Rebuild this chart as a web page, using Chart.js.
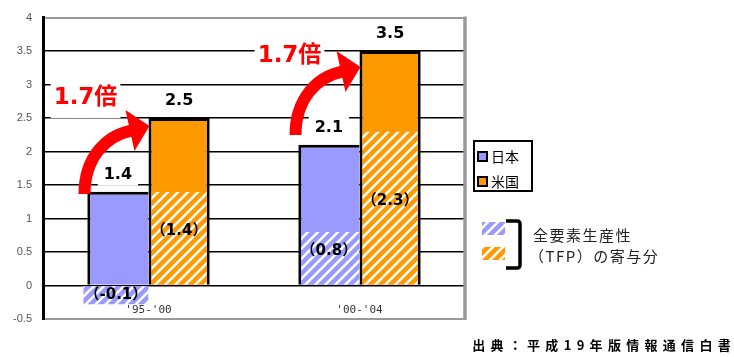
<!DOCTYPE html>
<html>
<head>
<meta charset="utf-8">
<script src="https://cdn.jsdelivr.net/npm/chart.js@4"></script>
<style>
  html, body { margin: 0; padding: 0; background: #fff; }
  #wrap { width: 734px; height: 357px; position: relative; }
</style>
</head>
<body>
<div id="wrap"><canvas id="c" width="734" height="357"></canvas></div>
<script>
// Labour productivity growth, Japan vs. US (%), with the TFP contribution
const periods = ["'95-'00", "'00-'04"];
const japanGrowth = [1.4, 2.1];
const usGrowth = [2.5, 3.5];
const japanTfp = [-0.1, 0.8];
const usTfp = [1.4, 2.3];
const ratioLabels = ['1.7倍', '1.7倍'];
const yTicks = [-0.5, 0, 0.5, 1, 1.5, 2, 2.5, 3, 3.5, 4];
const seriesNames = ['日本', '米国'];
const tfpLegendLines = ['全要素生産性', '（TFP）の寄与分'];
const sourceNote = '出典：平成19年版情報通信白書';

const BLUE = '#9999ff';
const ORANGE = '#ff9900';
const RED = '#ff0000';
const LABEL_FONT = '"DejaVu Sans", "Noto Sans CJK JP", sans-serif';
const JP_FONT = '"Noto Sans CJK JP", "DejaVu Sans", sans-serif';

const canvas = document.getElementById('c');
const mainCtx = canvas.getContext('2d');

// diagonal white stripes on a coloured ground
function hatch(color) {
  const s = 10;
  const tile = document.createElement('canvas');
  tile.width = tile.height = s;
  const g = tile.getContext('2d');
  g.fillStyle = color;
  g.fillRect(0, 0, s, s);
  g.strokeStyle = '#fff';
  g.lineWidth = 2.6;
  g.beginPath();
  g.moveTo(-2, s + 2); g.lineTo(s + 2, -2);
  g.moveTo(-2, 2); g.lineTo(2, -2);
  g.moveTo(s - 2, s + 2); g.lineTo(s + 2, s - 2);
  g.stroke();
  return mainCtx.createPattern(tile, 'repeat');
}
const BLUE_HATCH = hatch(BLUE);
const ORANGE_HATCH = hatch(ORANGE);

function boxedText(ctx, text, x, y, font, color, padX, halfH, bg) {
  ctx.save();
  ctx.font = font;
  const w = ctx.measureText(text).width;
  if (bg) {
    ctx.fillStyle = bg;
    ctx.fillRect(x - w / 2 - padX, y - halfH, w + padX * 2, halfH * 2);
  }
  ctx.fillStyle = color;
  ctx.textAlign = 'center';
  ctx.textBaseline = 'middle';
  ctx.fillText(text, x, y);
  ctx.restore();
}

// value labels on bar tops and inside the TFP parts
const valueLabels = {
  id: 'valueLabels',
  afterDatasetsDraw(chart) {
    const ctx = chart.ctx;
    [0, 1].forEach(di => {
      chart.getDatasetMeta(di).data.forEach((bar, i) => {
        const v = chart.data.datasets[di].data[i];
        boxedText(ctx, v.toFixed(1), bar.x, bar.y - 17,
          'bold 16px ' + LABEL_FONT, '#000', 6, 11, '#fff');
      });
    });
    [2, 3].forEach(di => {
      const ds = chart.data.datasets[di];
      chart.getDatasetMeta(di).data.forEach((bar, i) => {
        const v = ds.data[i];
        const text = '（' + v.toFixed(1) + '）';
        if (v >= 0) {
          boxedText(ctx, text, bar.x, (bar.y + bar.base) / 2 - 7,
            'bold 15px ' + LABEL_FONT, '#000', 0, 0, null);
        } else {
          boxedText(ctx, text, bar.x - 2, bar.base + 9,
            'bold 15px ' + LABEL_FONT, '#000', 1, 9, ds.backgroundColor);
        }
      });
    });
  }
};

// curved arrows from the Japan bar to the US bar with the ratio
const notePlacement = [
  { tipDy: 8, labelDx: -64, labelDy: -28 },
  { tipDy: 16, labelDx: -71, labelDy: -11 }
];
function drawArrow(ctx, tx, ty) {
  const S = [tx - 65, ty + 68];
  const B = [tx - 19.5, ty + 4.5];
  const dir = [0.976, -0.214];
  ctx.save();
  ctx.strokeStyle = RED;
  ctx.fillStyle = RED;
  ctx.lineWidth = 12;
  ctx.lineCap = 'butt';
  ctx.beginPath();
  ctx.moveTo(S[0], S[1]);
  ctx.bezierCurveTo(S[0], S[1] - 36, B[0] - dir[0] * 25, B[1] - dir[1] * 25, B[0] + 1, B[1]);
  ctx.stroke();
  ctx.beginPath();
  ctx.moveTo(tx - 24, ty - 16);
  ctx.lineTo(tx, ty);
  ctx.lineTo(tx - 15, ty + 25);
  ctx.closePath();
  ctx.fill();
  ctx.restore();
}
const ratioNotes = {
  id: 'ratioNotes',
  afterDatasetsDraw(chart) {
    const ctx = chart.ctx;
    const us = chart.getDatasetMeta(1).data;
    const spots = us.map((bar, i) => {
      const p = notePlacement[i];
      const tx = bar.x - bar.width / 2 + 1;
      const ty = bar.y + p.tipDy;
      return { tx, ty, lx: tx + p.labelDx, ly: ty + p.labelDy };
    });
    spots.forEach((s, i) => {
      boxedText(ctx, ratioLabels[i], s.lx, s.ly, 'bold 23px ' + LABEL_FONT, RED, 3, 20, '#fff');
    });
    spots.forEach(s => drawArrow(ctx, s.tx, s.ty));
  }
};

// frame on the right, legends and source line
const decorations = {
  id: 'decorations',
  beforeDatasetsDraw(chart) {
    const { ctx, chartArea: a } = chart;
    ctx.save();
    ctx.strokeStyle = '#999';
    ctx.lineWidth = 3.5;
    ctx.beginPath();
    ctx.moveTo(a.right, a.top - 1);
    ctx.lineTo(a.right, a.bottom + 1);
    ctx.stroke();
    ctx.restore();
  },
  afterDraw(chart) {
    const ctx = chart.ctx;
    const a = chart.chartArea;
    const lx = a.right + 9;
    ctx.save();
    // series legend
    ctx.strokeStyle = '#000';
    ctx.lineWidth = 2;
    ctx.strokeRect(lx, 141, 58, 50);
    const fills = [BLUE, ORANGE];
    seriesNames.forEach((name, i) => {
      const y = 152 + i * 25;
      ctx.fillStyle = fills[i];
      ctx.fillRect(lx + 4, y, 9, 9);
      ctx.lineWidth = 2;
      ctx.strokeRect(lx + 4, y, 9, 9);
      ctx.fillStyle = '#000';
      ctx.font = '14px ' + JP_FONT;
      ctx.textBaseline = 'middle';
      ctx.textAlign = 'left';
      ctx.fillText(name, lx + 17, y + 4.5);
    });
    // TFP legend
    const hx = lx + 8;
    ctx.fillStyle = BLUE_HATCH;
    ctx.fillRect(hx, 222, 23, 13);
    ctx.fillStyle = ORANGE_HATCH;
    ctx.fillRect(hx, 247, 23, 13);
    ctx.strokeStyle = '#000';
    ctx.lineWidth = 3.5;
    ctx.beginPath();
    ctx.moveTo(hx + 24, 221);
    ctx.lineTo(hx + 35, 221);
    ctx.quadraticCurveTo(hx + 38, 221, hx + 38, 224);
    ctx.lineTo(hx + 38, 265);
    ctx.quadraticCurveTo(hx + 38, 268, hx + 35, 268);
    ctx.lineTo(hx + 24, 268);
    ctx.stroke();
    ctx.fillStyle = '#222';
    ctx.font = '15px ' + JP_FONT;
    ctx.letterSpacing = '1.5px';
    ctx.fillText(tfpLegendLines[0], hx + 51, 235);
    ctx.fillText(tfpLegendLines[1], hx + 47, 256);
    // source
    ctx.font = 'bold 13px ' + JP_FONT;
    ctx.letterSpacing = '5.3px';
    ctx.textAlign = 'right';
    ctx.fillStyle = '#000';
    ctx.fillText(sourceNote, 736, 345);
    ctx.restore();
  }
};

new Chart(canvas, {
  type: 'bar',
  data: {
    labels: periods,
    datasets: [
      { label: seriesNames[0], data: japanGrowth, stack: 'jp', backgroundColor: BLUE, borderColor: '#000',
        borderWidth: { left: 3, top: 3, right: 0, bottom: 0 }, borderSkipped: false, order: 2 },
      { label: seriesNames[1], data: usGrowth, stack: 'us', backgroundColor: ORANGE, borderColor: '#000',
        borderWidth: { left: 3, top: 3, right: 3, bottom: 0 }, borderSkipped: false, order: 2 },
      { label: seriesNames[0] + ' TFP', data: japanTfp, stack: 'jp', backgroundColor: BLUE_HATCH,
        borderColor: 'rgba(0,0,0,0)', borderWidth: { left: 3, top: 0, right: 0, bottom: 0 },
        borderSkipped: false, order: 1 },
      { label: seriesNames[1] + ' TFP', data: usTfp, stack: 'us', backgroundColor: ORANGE_HATCH,
        borderColor: 'rgba(0,0,0,0)', borderWidth: { left: 3, top: 0, right: 3, bottom: 0 },
        borderSkipped: false, order: 1 }
    ]
  },
  options: {
    responsive: false,
    animation: false,
    devicePixelRatio: 1,
    categoryPercentage: 0.58,
    barPercentage: 1.0,
    layout: { padding: { left: 0, top: 13, right: 734 - 465, bottom: 0 } },
    plugins: { legend: { display: false }, tooltip: { enabled: false } },
    scales: {
      x: {
        type: 'category',
        offset: true,
        grid: { display: false, drawTicks: false },
        border: { display: false },
        ticks: { mirror: true, padding: 2, color: '#333', font: { family: 'DejaVu Sans Mono', size: 11 } },
        afterFit: s => { s.height = 357 - 319; }
      },
      y: {
        stacked: false,
        min: -0.5,
        max: 4,
        afterBuildTicks: s => { s.ticks = yTicks.map(v => ({ value: v })); },
        afterFit: s => { s.width = 43; },
        ticks: {
          padding: 11,
          color: '#555',
          font: { family: '"Liberation Sans", Arial, sans-serif', size: 11 },
          callback: v => String(v)
        },
        grid: {
          drawTicks: false,
          color: c => (c.tick && (c.tick.value === 4 || c.tick.value === -0.5)) ? '#999' : '#000',
          lineWidth: c => (c.tick && (c.tick.value === 4 || c.tick.value === -0.5)) ? 2 : 1.5
        },
        border: { color: '#000', width: 3 }
      }
    }
  },
  plugins: [decorations, valueLabels, ratioNotes]
});
</script>
</body>
</html>
